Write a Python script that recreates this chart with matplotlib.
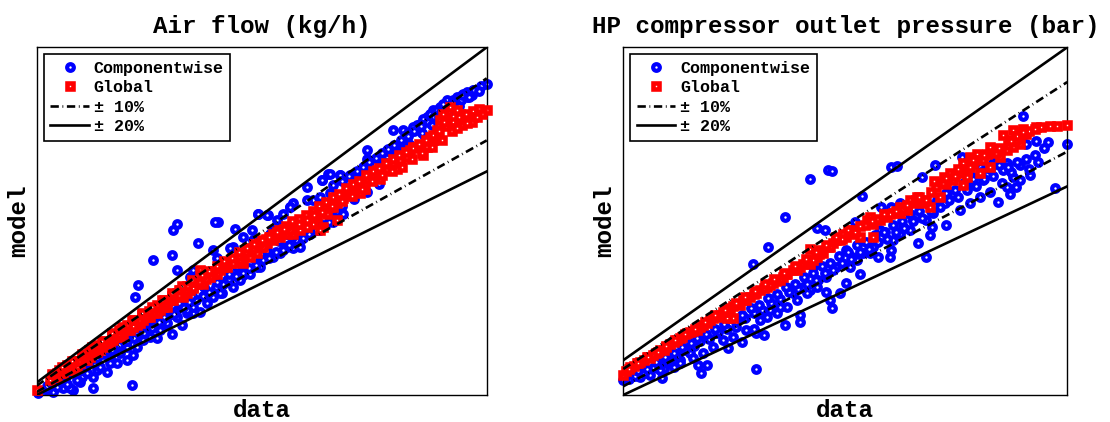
import numpy as np
import matplotlib
matplotlib.use("Agg")
import matplotlib.pyplot as plt

plt.rcParams['font.family'] = ['Liberation Mono', 'DejaVu Sans Mono']
plt.rcParams['font.weight'] = 'bold'
plt.rcParams['lines.scale_dashes'] = False

# ---------------- Data: Air flow (kg/h) ----------------
air_comp_data = [1000, 970, 960, 953, 940, 920, 907, 893, 880, 873, 860, 847, 833, 813, 827, 820, 807, 800,
                 877, 787, 760, 760, 750, 733, 723, 707, 693, 683, 670, 687, 667, 653, 640, 613, 607, 593,
                 580, 573, 567, 543, 563, 530, 533, 513, 497, 493, 487, 463, 457, 460, 453, 423, 380, 373,
                 370, 380, 333, 303, 297, 407, 413, 400, 387, 460, 470, 480, 500, 513, 540, 533, 560, 573,
                 613, 627, 667, 673, 700, 693, 427, 413, 390, 370, 340, 320, 307, 293, 280, 293, 280, 260,
                 247, 240, 220, 213, 213, 190, 187, 173, 167, 153, 133, 103, 290, 257, 227, 400, 353, 373,
                 360, 440, 453, 467, 493, 507, 527, 547, 587, 600, 627, 647, 660, 687, 713, 413, 400, 380,
                 360, 347, 327, 313, 300, 267, 247, 227, 200, 180, 160, 140, 120, 913, 900, 887, 867, 853,
                 840, 960, 947, 973, 933, 543, 560, 607, 640, 670, 687, 707, 727,
                 150, 165, 178, 195, 205, 218, 232, 245, 258, 272, 285, 298, 312, 325, 338, 352, 365, 378,
                 392, 405, 418, 432, 445, 458, 472, 485, 498, 512, 525, 538, 552, 565, 578, 592, 605, 618,
                 632, 645, 658, 672, 685, 698, 710, 725, 740, 752, 765, 778, 790, 803, 815, 828, 842, 855,
                 868, 882, 895, 908, 922, 935, 948, 962, 975, 988,
                 310, 335, 360, 385, 410, 435, 460, 485, 510, 535, 560, 585, 610, 635, 660, 685, 710, 735,
                 760, 785, 600, 620, 650, 575, 700, 720, 745, 770, 795, 820, 845, 870, 890, 905, 925, 945,
                 965, 985, 950, 930, 120, 130, 145, 160, 175, 190, 205, 220, 235, 250, 265, 280, 295, 315,
                 330, 345, 355, 375]
air_comp_model = [1083, 1045, 1056, 1051, 1040, 1029, 1008, 997, 976, 970, 949, 927, 933, 933, 890, 879, 863, 868,
                  911, 825, 868, 841, 793, 766, 766, 788, 756, 793, 772, 729, 718, 707, 750, 697, 686, 664,
                  643, 611, 600, 664, 659, 611, 579, 589, 616, 557, 552, 638, 638, 520, 547, 568, 632, 611,
                  530, 482, 514, 434, 396, 461, 482, 407, 407, 418, 407, 450, 493, 466, 493, 525, 525, 525,
                  552, 579, 611, 622, 664, 638, 348, 343, 305, 278, 262, 278, 289, 268, 235, 209, 193, 182,
                  198, 155, 160, 139, 101, 139, 123, 96, 101, 101, 91, 85, 112, 225, 214, 343, 305, 364,
                  337, 375, 396, 407, 429, 450, 471, 493, 536, 557, 557, 600, 611, 643, 664, 364, 353, 332,
                  311, 289, 268, 257, 235, 214, 182, 171, 150, 128, 117, 107, 96, 1018, 997, 986, 954, 943,
                  922, 1040, 1035, 1061, 1029, 664, 659, 686, 707, 772, 793, 788, 788,
                  140, 152, 166, 178, 193, 200, 214, 228, 238, 250, 262, 276, 288, 300, 310, 326, 338, 350,
                  362, 378, 386, 398, 412, 428, 436, 452, 462, 474, 488, 500, 514, 522, 540, 548, 562, 578,
                  586, 598, 612, 628, 636, 650, 770, 785, 800, 815, 830, 843, 858, 872, 885, 900, 915, 930,
                  945, 958, 975, 990, 1002, 1018, 1030, 1048, 1062, 1075,
                  300, 325, 352, 375, 400, 428, 445, 470, 495, 520, 545, 575, 590, 615, 640, 668, 690, 712,
                  735, 760, 600, 625, 655, 585, 705, 735, 760, 800, 830, 860, 890, 925, 950, 975, 995, 1010,
                  1040, 1060, 1045, 1020, 110, 118, 128, 145, 160, 172, 185, 198, 212, 224, 240, 255, 262, 280,
                  295, 315, 330, 340]

air_glob_data = [1000, 973, 960, 947, 940, 927, 920, 907, 900, 893, 880, 873, 860, 853, 840, 827, 813, 800,
                 787, 773, 760, 757, 747, 727, 713, 700, 687, 700, 673, 667, 660, 647, 633, 620, 613, 600,
                 587, 573, 560, 547, 533, 520, 513, 493, 480, 467, 453, 440, 427, 420, 407, 393, 380, 373,
                 360, 347, 333, 320, 307, 293, 280, 267, 253, 240, 227, 213, 200, 187, 173, 160, 147, 133,
                 100, 733, 780, 820, 847, 887, 913, 933, 953, 967, 607, 593, 580, 567, 553, 540, 527, 507,
                 487, 473, 460, 447, 433, 413, 400, 387, 367, 353, 340, 327, 313, 300, 287, 273, 260, 247,
                 233, 220, 207, 193, 180, 167, 153, 140, 127, 653, 640, 627, 680, 720, 707, 693,
                 140, 155, 170, 185, 198, 212, 225, 238, 252, 265, 278, 292, 305, 318, 332, 345, 358, 372,
                 385, 398, 412, 425, 438, 452, 465, 478, 492, 505, 518, 532, 545, 558, 572, 585, 598, 612,
                 625, 638, 652, 665, 678, 692, 705, 718, 732, 745, 758, 772, 785, 798, 812, 825, 838, 852,
                 865, 878, 892, 905, 918, 932, 945, 958, 972, 985,
                 145, 160, 175, 190, 205, 220, 235, 250, 265, 280, 295, 310, 325, 340, 355, 370, 385, 400,
                 415, 430, 445, 460, 475, 490, 505, 520, 535, 550, 565, 580, 595, 610, 625, 640, 655, 670,
                 690, 710, 730, 750, 770, 790, 810, 830, 850, 870, 890, 910, 930, 950, 970, 990, 915, 940,
                 960, 980,
                 130, 150, 170, 190, 210, 230, 250, 270, 290, 310, 330, 350, 370, 390, 410]
air_glob_model = [999, 976, 965, 986, 997, 1008, 976, 965, 933, 900, 879, 852, 879, 879, 847, 836, 825, 804,
                  777, 782, 777, 745, 729, 729, 713, 697, 686, 643, 622, 611, 654, 654, 632, 622, 600, 600,
                  589, 579, 568, 557, 547, 536, 504, 514, 493, 482, 471, 461, 482, 439, 418, 396, 407, 386,
                  364, 353, 353, 332, 311, 300, 289, 268, 257, 246, 225, 214, 193, 182, 160, 160, 150, 139,
                  96, 750, 804, 809, 868, 911, 986, 954, 976, 981, 611, 611, 600, 589, 557, 536, 525, 514,
                  504, 493, 471, 461, 439, 429, 407, 418, 386, 364, 343, 332, 321, 305, 289, 278, 268, 246,
                  235, 219, 203, 193, 171, 160, 150, 139, 128, 632, 622, 611, 664, 740, 707, 686,
                  150, 162, 178, 190, 206, 220, 232, 248, 262, 275, 292, 302, 320, 330, 345, 360, 372, 395,
                  402, 418, 425, 445, 452, 480, 488, 505, 505, 528, 540, 552, 568, 582, 598, 612, 625, 630,
                  648, 660, 672, 690, 700, 718, 728, 748, 760, 770, 790, 800, 812, 828, 840, 852, 862, 875,
                  890, 900, 918, 930, 945, 960, 975, 985, 995, 1000,
                  160, 175, 190, 205, 225, 240, 255, 272, 290, 305, 320, 338, 352, 370, 385, 400, 418, 432,
                  445, 465, 478, 495, 510, 522, 540, 555, 565, 578, 590, 605, 615, 640, 630, 645, 660, 670,
                  690, 705, 720, 745, 770, 790, 800, 815, 840, 860, 880, 900, 930, 950, 960, 985, 960, 940,
                  955, 975,
                  148, 170, 190, 212, 235, 255, 280, 300, 322, 345, 365, 385, 408, 430, 450]

# ---------------- Data: HP compressor outlet pressure (bar) ----------------
hp_comp_data = [5.65, 5.96, 6.02, 5.23, 4.95, 4.69, 6.53, 7.03, 7.12, 7.77, 7.54, 8.22, 9.26, 10.0, 9.68, 9.48,
                9.79, 8.83, 9.37, 9.14, 9.03, 8.69, 8.53, 8.36, 8.19, 7.96, 7.68, 7.71, 7.48, 7.40, 7.23, 7.17,
                7.03, 6.86, 6.84, 6.92, 6.67, 6.81, 7.00, 7.03, 6.33, 6.41, 6.22, 6.44, 6.50, 6.27, 6.16, 5.99,
                6.02, 5.93, 5.77, 5.91, 5.71, 5.79, 5.65, 5.54, 5.37, 5.26, 5.48, 5.48, 5.23, 5.09, 4.98, 4.87,
                4.75, 4.70, 4.50, 4.41, 4.27, 4.08, 3.91, 3.82, 3.77, 3.63, 3.46, 3.29, 3.18, 3.15, 2.95, 2.78,
                2.50, 4.74, 7.62, 8.53, 8.75, 8.92, 9.09, 8.58, 8.41, 8.30, 8.07, 7.93, 7.74, 7.62, 7.34, 7.17,
                7.06, 6.72, 6.55, 6.37, 6.27, 6.10, 5.93, 5.77, 5.60, 5.43, 5.15, 4.92, 4.81, 4.58, 4.36, 4.19,
                4.02, 3.85, 3.68, 3.46, 3.35, 3.12, 8.81, 8.98, 9.20, 9.31, 9.20, 8.98,
                2.60, 2.70, 2.85, 3.00, 3.10, 3.25, 3.40, 3.55, 3.70, 3.80, 3.95, 4.10, 4.25, 4.40, 4.55, 4.70,
                4.85, 5.00, 5.15, 5.30, 5.45, 5.60, 5.75, 5.90, 6.05, 6.20, 6.35, 6.50, 6.65, 6.80, 6.95, 7.10,
                7.25, 7.40, 7.55, 7.70, 7.85, 8.00, 8.15, 8.30, 8.45, 8.60, 8.75, 8.90, 9.05, 9.20, 9.35, 9.50,
                2.55, 2.75, 2.90, 3.05, 3.20, 3.35, 3.50, 3.65, 3.75, 3.90, 4.05, 4.20, 4.35, 4.50, 4.65, 4.80,
                4.95, 5.10, 5.25, 5.40, 5.55, 5.70, 5.85, 6.00, 6.15, 6.30, 6.45, 6.60, 6.75, 6.90, 7.05, 7.20,
                7.35, 7.50, 7.65, 7.80, 7.95, 8.10, 8.25, 8.40, 8.55, 8.70, 8.85, 9.00, 9.15, 9.30, 9.45, 9.60]
hp_comp_model = [8.22, 8.46, 8.45, 7.12, 6.26, 5.78, 7.72, 8.56, 8.59, 8.61, 8.27, 8.85, 10.02, 9.23, 9.28, 9.31,
                 7.96, 7.55, 8.32, 7.99, 7.79, 7.84, 7.70, 7.51, 7.31, 6.88, 6.60, 6.82, 6.38, 7.03, 6.83, 7.51,
                 7.41, 7.41, 6.74, 6.69, 6.07, 5.97, 5.97, 6.16, 5.69, 6.98, 6.60, 5.88, 5.49, 5.21, 4.92, 4.73,
                 4.49, 4.97, 6.79, 6.74, 5.69, 5.30, 5.02, 5.11, 4.92, 4.54, 4.30, 4.11, 4.01, 4.35, 4.44, 3.72,
                 3.77, 3.91, 3.53, 3.96, 3.34, 3.77, 2.86, 2.62, 2.86, 3.20, 3.00, 2.91, 2.76, 2.48, 2.57, 2.52,
                 2.43, 2.75, 5.97, 8.56, 8.66, 8.46, 8.27, 8.18, 8.27, 7.99, 7.79, 7.51, 7.22, 7.03, 6.74, 6.64,
                 6.45, 6.26, 6.07, 5.97, 6.16, 5.69, 5.40, 5.11, 4.92, 4.73, 4.54, 4.25, 4.15, 3.87, 3.67, 3.58,
                 3.39, 3.20, 3.05, 2.91, 2.81, 2.72, 8.75, 8.66, 9.33, 9.23, 8.18, 7.99,
                 2.45, 2.55, 2.62, 2.78, 2.90, 3.02, 3.12, 3.30, 3.42, 3.55, 3.62, 3.80, 3.90, 4.10, 4.20, 4.35,
                 4.45, 4.65, 4.75, 4.95, 5.05, 5.20, 5.30, 5.50, 5.60, 5.80, 5.90, 6.10, 6.20, 6.40, 6.50, 6.70,
                 6.80, 7.00, 7.10, 7.30, 7.40, 7.60, 7.70, 7.90, 8.00, 8.20, 8.30, 8.10, 8.40, 8.60, 8.50, 8.70,
                 2.55, 2.68, 2.75, 2.95, 3.10, 3.20, 3.38, 3.50, 3.65, 3.75, 3.90, 4.05, 4.20, 4.30, 4.50, 4.60,
                 4.80, 4.90, 5.10, 5.20, 5.40, 5.50, 5.70, 5.80, 6.00, 6.10, 6.30, 6.40, 6.60, 6.70, 6.90, 7.00,
                 7.20, 7.30, 7.50, 7.60, 7.80, 7.90, 8.10, 8.20, 8.40, 8.50, 8.60, 8.55, 8.70, 8.80, 8.90, 9.10]

hp_glob_data = [2.50, 2.78, 2.90, 3.06, 3.23, 3.40, 3.57, 3.74, 3.91, 4.08, 4.25, 4.36, 4.47, 4.58, 4.75, 4.92,
                5.03, 5.20, 5.37, 5.48, 5.65, 5.65, 5.77, 5.88, 5.96, 6.05, 6.16, 6.27, 6.37, 6.50, 6.61, 6.72,
                6.72, 6.84, 6.95, 7.06, 7.17, 7.29, 7.40, 7.51, 7.68, 7.79, 7.96, 7.85, 8.07, 8.19, 8.30, 8.41,
                8.53, 8.64, 8.75, 8.86, 8.98, 9.09, 9.20, 8.92, 9.09, 9.26, 9.48, 9.71, 9.82, 9.99, 3.18, 3.29,
                3.46, 3.63, 3.80, 3.96, 4.13, 4.30, 4.41, 4.64, 4.81, 4.98, 5.15, 5.26, 5.43, 5.54, 5.71, 5.82,
                6.10, 6.22, 6.33, 6.67, 7.17, 7.34, 7.46, 7.57, 7.62, 7.91, 8.02, 8.24, 8.36, 8.47, 8.69, 8.81,
                9.03, 9.14, 9.31, 9.20, 8.24, 8.53, 8.69, 8.30, 4.25, 2.61, 2.73, 2.95,
                2.55, 2.68, 2.85, 3.00, 3.12, 3.35, 3.50, 3.68, 3.85, 4.02, 4.18, 4.35, 4.52, 4.70, 4.88, 5.08,
                5.25, 5.42, 5.60, 5.80, 6.00, 6.20, 6.42, 6.58, 6.78, 7.00, 7.22, 7.45, 7.70, 7.90, 8.10, 8.35,
                8.58, 8.80, 9.00, 9.15, 9.35, 9.55,
                2.60, 2.75, 2.92, 3.08, 3.22, 3.38, 3.55, 3.72, 3.88, 4.05, 4.22, 4.40, 4.55, 4.72, 4.90, 5.05,
                5.22, 5.40, 5.58, 5.75, 5.92, 6.10, 6.30, 6.50, 6.70, 6.90, 7.10, 7.30, 7.50, 7.75, 7.95, 8.15,
                8.40, 8.60, 8.85, 9.05, 9.25, 9.45]
hp_glob_model = [2.57, 2.96, 3.10, 3.20, 3.39, 3.58, 3.77, 3.87, 4.06, 4.25, 4.44, 4.20, 4.58, 4.73, 4.92, 5.11,
                 5.21, 5.40, 5.59, 5.69, 5.78, 6.21, 5.97, 6.07, 6.26, 6.36, 6.45, 6.55, 6.64, 6.55, 7.03, 6.93,
                 6.55, 7.03, 7.12, 7.22, 7.22, 7.31, 7.51, 7.60, 7.41, 7.99, 8.08, 7.70, 8.18, 8.37, 8.46, 8.66,
                 8.85, 8.94, 9.04, 8.85, 9.04, 9.13, 9.23, 9.47, 9.61, 9.66, 9.71, 9.73, 9.73, 9.76, 3.29, 3.48,
                 3.63, 3.82, 3.96, 4.15, 4.30, 4.49, 4.63, 4.82, 5.02, 5.16, 5.30, 5.49, 5.59, 5.78, 5.88, 6.16,
                 6.45, 6.64, 6.74, 7.12, 7.41, 7.60, 7.70, 7.51, 7.60, 8.27, 8.37, 8.66, 8.85, 8.94, 9.13, 9.04,
                 9.33, 9.33, 9.52, 9.52, 8.03, 8.37, 8.56, 8.27, 4.20, 2.81, 2.91, 3.05,
                 2.70, 2.82, 3.00, 3.15, 3.28, 3.52, 3.68, 3.85, 4.02, 4.20, 4.38, 4.55, 4.72, 4.90, 5.08, 5.28,
                 5.48, 5.65, 5.85, 6.05, 6.25, 6.50, 6.70, 6.90, 7.05, 7.20, 7.35, 7.60, 7.85, 8.10, 8.30, 8.55,
                 8.75, 8.95, 9.20, 9.45, 9.60, 9.70,
                 2.75, 2.92, 3.08, 3.25, 3.42, 3.58, 3.75, 3.90, 4.10, 4.30, 4.45, 4.65, 4.82, 5.00, 5.18, 5.35,
                 5.52, 5.72, 5.90, 6.10, 6.30, 6.55, 6.75, 6.85, 7.00, 7.20, 7.30, 7.45, 7.70, 8.15, 8.25, 8.50,
                 8.75, 8.90, 9.10, 9.30, 9.55, 9.65]

titles = ["Air flow (kg/h)", "HP compressor outlet pressure (bar)"]
series_labels = ["Componentwise", "Global"]
band_labels = ["\u00b1 10%", "\u00b1 20%"]
tol_inner = 0.10
tol_outer = 0.20

panels = [
    (air_comp_data, air_comp_model, air_glob_data, air_glob_model),
    (hp_comp_data, hp_comp_model, hp_glob_data, hp_glob_model),
]

fig = plt.figure(figsize=(11.10, 4.22), dpi=100)
positions = [[0.0331, 0.064, 0.4054, 0.824], [0.5615, 0.064, 0.4000, 0.824]]

dashdot = (0, (6.0, 2.6, 0.6, 2.6))

for pos, title, (cd, cm, gd, gm) in zip(positions, titles, panels):
    ax = fig.add_axes(pos)
    cd = np.asarray(cd, float); cm = np.asarray(cm, float)
    gd = np.asarray(gd, float); gm = np.asarray(gm, float)
    lo = min(cd.min(), gd.min())
    hi = max(cd.max(), gd.max())

    ax.plot(cd, cm, linestyle='none', marker='o', markersize=4.8, markeredgewidth=3.0,
            markerfacecolor='white', markeredgecolor='#0000ff', clip_on=False,
            label=series_labels[0], zorder=2)
    ax.plot(gd, gm, linestyle='none', marker='s', markersize=4.0, markeredgewidth=3.3,
            markerfacecolor='white', markeredgecolor='#ff0000', clip_on=False,
            label=series_labels[1], zorder=3)

    xl = np.array([lo, hi])
    ax.plot(xl, (1 + tol_inner) * xl, color='black', lw=1.9, linestyle=dashdot,
            label=band_labels[0], zorder=4)
    ax.plot(xl, (1 - tol_inner) * xl, color='black', lw=1.9, linestyle=dashdot, zorder=4)
    ax.plot(xl, (1 + tol_outer) * xl, color='black', lw=1.9, linestyle='-',
            label=band_labels[1], zorder=4)
    ax.plot(xl, (1 - tol_outer) * xl, color='black', lw=1.9, linestyle='-', zorder=4)

    ax.set_xlim(lo, hi)
    ax.set_ylim((1 - tol_outer) * lo, (1 + tol_outer) * hi)
    ax.set_xticks([])
    ax.set_yticks([])
    for sp in ax.spines.values():
        sp.set_linewidth(1.0)
        sp.set_color('black')

    ax.set_title(title, fontsize=17.5, fontweight='bold', pad=10)
    ax.set_xlabel("data", fontsize=17.5, fontweight='bold', labelpad=3)
    ax.set_ylabel("model", fontsize=17.5, fontweight='bold', labelpad=5)

    leg = ax.legend(loc='upper left', frameon=True, fancybox=False,
                    edgecolor='black', framealpha=1.0, borderaxespad=0.42,
                    handlelength=2.3, handletextpad=0.3, labelspacing=0.26,
                    borderpad=0.4, numpoints=1,
                    prop={'family': ['Liberation Mono'], 'weight': 'bold', 'size': 12})
    leg.get_frame().set_linewidth(1.2)
    leg.set_zorder(10)

fig.savefig("out.png", dpi=100)
